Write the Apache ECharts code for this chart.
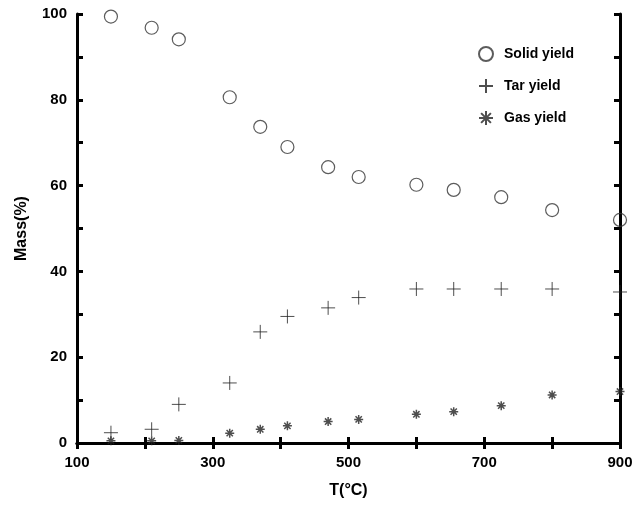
<!DOCTYPE html>
<html><head><meta charset="utf-8">
<script src="https://cdn.jsdelivr.net/npm/echarts@6/dist/echarts.min.js"></script>
<style>html,body{margin:0;padding:0;background:#fff}#c{width:636px;height:507px}</style>
</head><body><div id="c"></div>
<script>
const temps = [150, 210, 250, 325, 370, 410, 470, 515, 600, 655, 725, 800, 900];
const solidYield = [99.4, 96.8, 94.1, 80.6, 73.7, 69.0, 64.3, 62.0, 60.2, 59.0, 57.3, 54.3, 52.0];
const tarYield = [2.4, 3.2, 9.0, 14.0, 25.9, 29.5, 31.5, 33.9, 35.9, 35.9, 35.9, 35.9, 35.2];
const gasYield = [0.5, 0.5, 0.6, 2.3, 3.2, 4.0, 5.0, 5.5, 6.7, 7.3, 8.7, 11.2, 12.0];
const seriesNames = ['Solid yield', 'Tar yield', 'Gas yield'];
const xLabels = [100, 300, 500, 700, 900];
const yLabels = [0, 20, 40, 60, 80, 100];

const pair = (xs, ys) => xs.map((x, i) => [x, ys[i]]);
const font = 'Liberation Sans, Arial, sans-serif';
const plusPath = 'path://M5,0L5,10M0,5L10,5';
const starPath = 'path://M5,0L5,10M0,5L10,5M1.5,1.5L8.5,8.5M1.5,8.5L8.5,1.5';

const axisLineStyle = {show: true, lineStyle: {color: '#000', width: 3}};
const tickStyle = {show: true, inside: true, length: 6, lineStyle: {color: '#000', width: 3}};
const xAxisBase = {type: 'value', min: 100, max: 900, interval: 100, splitLine: {show: false},
  axisLine: axisLineStyle, axisTick: tickStyle};
const yAxisBase = {type: 'value', min: 0, max: 100, interval: 10, splitLine: {show: false},
  axisLine: axisLineStyle, axisTick: tickStyle};

const chart = echarts.init(document.getElementById('c'), null, {renderer: 'canvas'});
chart.setOption({
  animation: false,
  backgroundColor: '#fff',
  grid: {left: 77, right: 16, top: 14, bottom: 64},
  legend: {
    orient: 'vertical', left: 473, top: 41, itemGap: 16, itemWidth: 14, itemHeight: 14,
    textStyle: {fontFamily: font, fontWeight: 'bold', fontSize: 14, color: '#000', padding: [0, 0, 0, 6]},
    data: seriesNames
  },
  xAxis: [
    Object.assign({}, xAxisBase, {position: 'bottom', name: 'T(°C)', nameLocation: 'middle', nameGap: 40,
      nameTextStyle: {fontFamily: font, fontWeight: 'bold', fontSize: 16, color: '#000'},
      axisLabel: {margin: 12, fontFamily: font, fontWeight: 'bold', fontSize: 15, color: '#000',
        formatter: v => xLabels.includes(v) ? String(v) : ''}}),
    Object.assign({}, xAxisBase, {position: 'top', axisLabel: {show: false}})
  ],
  yAxis: [
    Object.assign({}, yAxisBase, {position: 'left', name: 'Mass(%)', nameLocation: 'middle', nameGap: 47,
      nameTextStyle: {fontFamily: font, fontWeight: 'bold', fontSize: 16, color: '#000'},
      axisLabel: {margin: 10, fontFamily: font, fontWeight: 'bold', fontSize: 15, color: '#000',
        formatter: v => yLabels.includes(v) ? String(v) : ''}}),
    Object.assign({}, yAxisBase, {position: 'right', axisLabel: {show: false}})
  ],
  series: [
    {name: seriesNames[0], type: 'scatter', data: pair(temps, solidYield), symbol: 'circle', symbolSize: 13,
      itemStyle: {color: 'rgba(0,0,0,0)', borderColor: '#333', borderWidth: 1.2}},
    {name: seriesNames[1], type: 'scatter', data: pair(temps, tarYield), symbol: plusPath, symbolSize: 14,
      itemStyle: {color: 'rgba(0,0,0,0)', borderColor: '#222', borderWidth: 1}},
    {name: seriesNames[2], type: 'scatter', data: pair(temps, gasYield), symbol: starPath, symbolSize: 9,
      itemStyle: {color: 'rgba(0,0,0,0)', borderColor: '#222', borderWidth: 1.5}}
  ]
});
</script></body></html>
